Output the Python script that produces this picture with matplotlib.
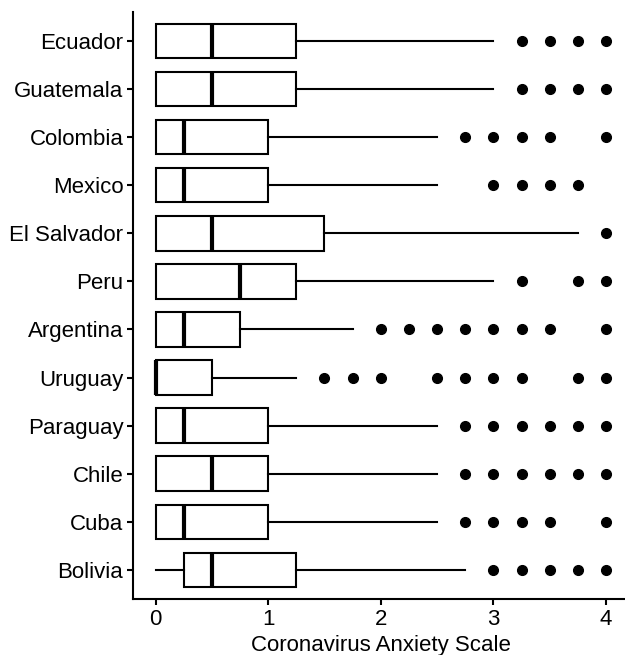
import matplotlib.pyplot as plt

plt.rcParams['font.family'] = ['Liberation Sans', 'DejaVu Sans']

# countries, bottom to top
countries = ['Bolivia', 'Cuba', 'Chile', 'Paraguay', 'Uruguay', 'Argentina',
             'Peru', 'El Salvador', 'Mexico', 'Colombia', 'Guatemala', 'Ecuador']

# box summaries
whis_lo = [0, 0, 0, 0, 0, 0, 0, 0, 0, 0, 0, 0]
q1 = [0.25, 0, 0, 0, 0, 0, 0, 0, 0, 0, 0, 0]
median = [0.5, 0.25, 0.5, 0.25, 0, 0.25, 0.75, 0.5, 0.25, 0.25, 0.5, 0.5]
q3 = [1.25, 1, 1, 1, 0.5, 0.75, 1.25, 1.5, 1, 1, 1.25, 1.25]
whis_hi = [2.75, 2.5, 2.5, 2.5, 1.25, 1.75, 3, 3.75, 2.5, 2.5, 3, 3]
outliers = [
    [3, 3.25, 3.5, 3.75, 4],
    [2.75, 3, 3.25, 3.5, 4],
    [2.75, 3, 3.25, 3.5, 3.75, 4],
    [2.75, 3, 3.25, 3.5, 3.75, 4],
    [1.5, 1.75, 2, 2.5, 2.75, 3, 3.25, 3.75, 4],
    [2, 2.25, 2.5, 2.75, 3, 3.25, 3.5, 4],
    [3.25, 3.75, 4],
    [4],
    [3, 3.25, 3.5, 3.75],
    [2.75, 3, 3.25, 3.5, 4],
    [3.25, 3.5, 3.75, 4],
    [3.25, 3.5, 3.75, 4],
]

stats = []
for i in range(len(countries)):
    stats.append({'whislo': whis_lo[i], 'q1': q1[i], 'med': median[i],
                  'q3': q3[i], 'whishi': whis_hi[i], 'fliers': outliers[i]})

fig = plt.figure(figsize=(6.25, 6.55), dpi=100)
ax = fig.add_axes([0.2128, 0.0857, 0.7928, 0.896])

lw = 1.5
ax.bxp(stats, positions=range(1, len(countries) + 1), vert=False, widths=0.72,
       showcaps=False, patch_artist=True,
       boxprops=dict(facecolor='white', edgecolor='black', linewidth=lw),
       whiskerprops=dict(color='black', linewidth=lw),
       medianprops=dict(color='black', linewidth=3, solid_capstyle='butt'),
       flierprops=dict(marker='o', markerfacecolor='black', markeredgecolor='black',
                       markersize=7, linestyle='none'))

ax.set_xlim(-0.2, 4.2)
ax.set_ylim(0.4, len(countries) + 0.6)
ax.set_xticks([0, 1, 2, 3, 4])
ax.set_xticklabels(['0', '1', '2', '3', '4'])
ax.set_yticks(range(1, len(countries) + 1))
ax.set_yticklabels(countries)
ax.set_xlabel('Coronavirus Anxiety Scale', fontsize=16, labelpad=4)

ax.spines['top'].set_visible(False)
ax.spines['right'].set_visible(False)
ax.spines['left'].set_linewidth(1.5)
ax.spines['bottom'].set_linewidth(1.5)
ax.tick_params(axis='both', labelsize=16, colors='black', width=1.5, length=4, pad=3)

fig.savefig('out.png', dpi=100)
